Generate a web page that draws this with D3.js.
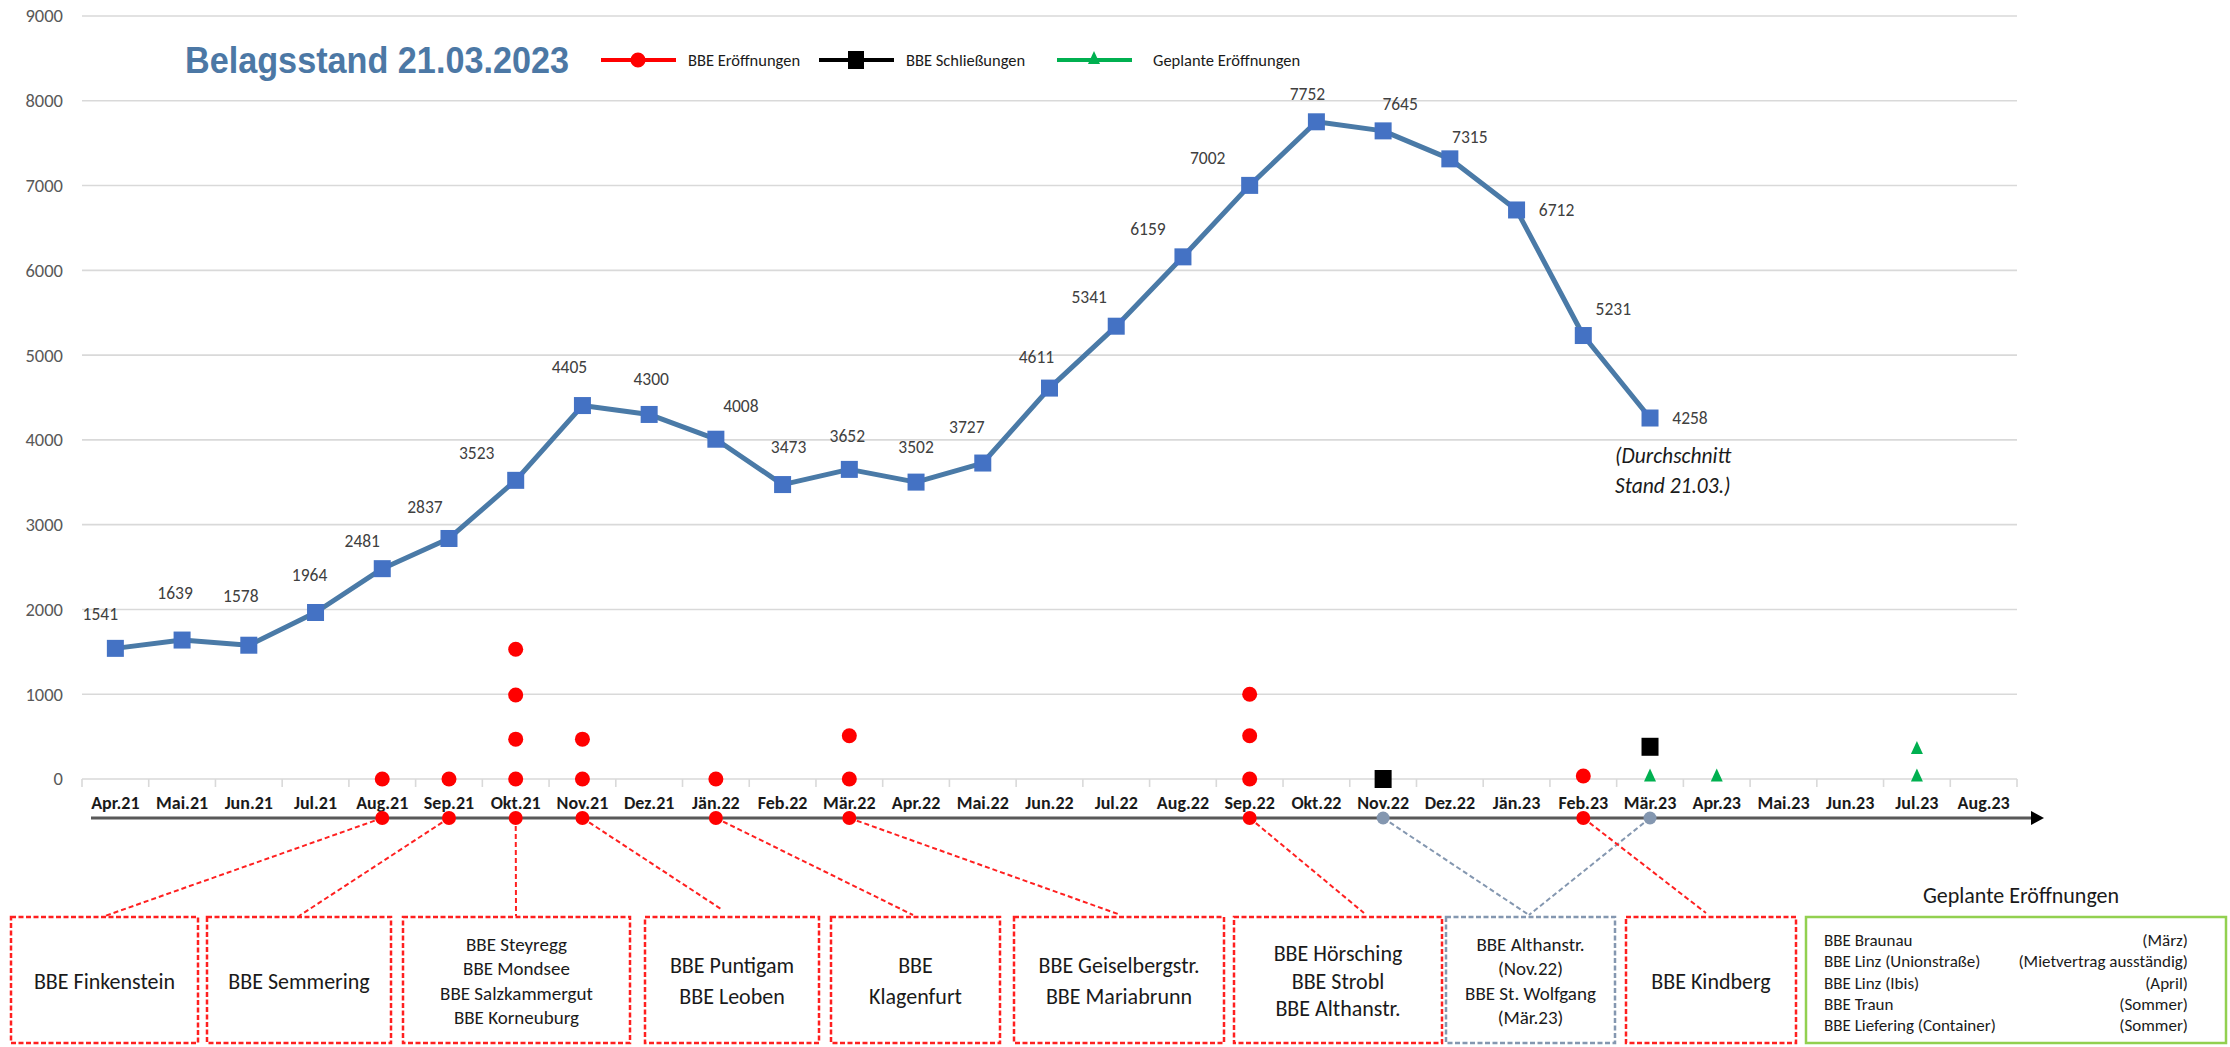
<!DOCTYPE html>
<html>
<head>
<meta charset="utf-8">
<style>
  body { margin: 0; background: #fff; }
  svg text { font-family: Calibri, Carlito, 'Open Sans', sans-serif; }
</style>
</head>
<body>
<script src="https://cdnjs.cloudflare.com/ajax/libs/d3/7.8.5/d3.min.js"></script>
<script>
// --- data ---
var months = ['Apr.21','Mai.21','Jun.21','Jul.21','Aug.21','Sep.21','Okt.21','Nov.21','Dez.21',
    'Jän.22','Feb.22','Mär.22','Apr.22','Mai.22','Jun.22','Jul.22','Aug.22','Sep.22','Okt.22',
    'Nov.22','Dez.22','Jän.23','Feb.23','Mär.23','Apr.23','Mai.23','Jun.23','Jul.23','Aug.23'];
var belag = [1541,1639,1578,1964,2481,2837,3523,4405,4300,4008,3473,3652,3502,3727,
    4611,5341,6159,7002,7752,7645,7315,6712,5231,4258];
var yTicks = [0,1000,2000,3000,4000,5000,6000,7000,8000,9000];

// marker rows: [month, value]
var eroeffnungen = [['Aug.21',0],['Sep.21',0],['Okt.21',0],['Okt.21',470],['Okt.21',990],['Okt.21',1530],
    ['Nov.21',0],['Nov.21',470],['Jän.22',0],['Mär.22',0],['Mär.22',510],
    ['Sep.22',0],['Sep.22',510],['Sep.22',1000],['Feb.23',35]];
var schliessungen = [['Nov.22',0],['Mär.23',380]];
var geplant = [['Mär.23',40],['Apr.23',40],['Jul.23',40],['Jul.23',365]];

var legendNames = ['BBE Eröffnungen','BBE Schließungen','Geplante Eröffnungen'];

// annotation boxes below the timeline
var boxTexts = [
    {links: ['Aug.21'], lines: ['BBE Finkenstein']},
    {links: ['Sep.21'], lines: ['BBE Semmering']},
    {links: ['Okt.21'], lines: ['BBE Steyregg','BBE Mondsee','BBE Salzkammergut','BBE Korneuburg']},
    {links: ['Nov.21'], lines: ['BBE Puntigam','BBE Leoben']},
    {links: ['Jän.22'], lines: ['BBE','Klagenfurt']},
    {links: ['Mär.22'], lines: ['BBE Geiselbergstr.','BBE Mariabrunn']},
    {links: ['Sep.22'], lines: ['BBE Hörsching','BBE Strobl','BBE Althanstr.']},
    {links: ['Nov.22','Mär.23'], lines: ['BBE Althanstr.','(Nov.22)','BBE St. Wolfgang','(Mär.23)'], closed: true},
    {links: ['Feb.23'], lines: ['BBE Kindberg']}
];
var planNames = ['BBE Braunau','BBE Linz (Unionstraße)','BBE Linz (Ibis)','BBE Traun','BBE Liefering (Container)'];
var planWhen = ['(März)','(Mietvertrag ausständig)','(April)','(Sommer)','(Sommer)'];

var labelNudge = [[-15,-34],[-7,-47],[-8,-49],[-6,-38],[-20,-28],[-24,-32],[-39,-27],[-13,-39],
    [2,-36],[25,-33],[6,-38],[-2,-34],[0,-35],[-16,-36],[-13,-31],[-27,-29],[-35,-28],[-42,-28],
    [-9,-28],[17,-27],[20,-22],[40,0],[30,-27],[40,0]];

// box layout in px: left, right, end x of connector, end y of connector
var boxLayout = [[11,198,105,916],[207,391,299,916],[403,630,516,916],[645,819,721,909],
    [831,1000,913,915],[1014,1224,1118,914],[1234,1442,1364,913],[1446,1615,1529,915],[1626,1796,1706,913]];

// --- chart ---
var W = 2230, H = 1047;
var svg = d3.select('body').append('svg')
    .attr('width', W)
    .attr('height', H);

var x = d3.scaleBand().domain(months).range([82, 2017]);
var y = d3.scaleLinear().domain([0, 9000]).range([779, 16]);
var cx = m => x(m) + x.bandwidth()/2;

// gridlines
svg.append('g').selectAll('line')
    .data(yTicks)
    .enter().append('line')
    .attr('x1', 82).attr('x2', 2017)
    .attr('y1', d => y(d)).attr('y2', d => y(d))
    .attr('stroke', '#d9d9d9')
    .attr('stroke-width', 1.6);

svg.append('g').selectAll('text')
    .data(yTicks)
    .enter().append('text')
    .attr('x', 63)
    .attr('y', d => y(d))
    .attr('dy', '0.35em')
    .attr('text-anchor', 'end')
    .attr('fill', '#595959')
    .style('font-size', '18.5px')
    .text(d => d);

// category axis on the zero line
var xAxis = svg.append('g')
    .attr('transform', 'translate(0,' + y(0) + ')')
    .call(d3.axisBottom(x).tickSize(0).tickPadding(17));
xAxis.select('.domain').remove();
xAxis.selectAll('text')
    .attr('fill', '#1a1a1a')
    .style('font-size', '18px')
    .style('font-weight', 'bold')
    .style('font-family', "Calibri, Carlito, 'Open Sans', sans-serif");
svg.append('g').selectAll('line')
    .data(months.concat(['end']))
    .enter().append('line')
    .attr('x1', (d,i) => 82 + i*x.step()).attr('x2', (d,i) => 82 + i*x.step())
    .attr('y1', y(0)).attr('y2', y(0) + 8)
    .attr('stroke', '#d9d9d9')
    .attr('stroke-width', 1.6);

// title
svg.append('text')
    .attr('x', 185).attr('y', 73)
    .attr('fill', '#4c78a5')
    .attr('textLength', 384)
    .attr('lengthAdjust', 'spacingAndGlyphs')
    .style('font-family', "'Liberation Sans', Arial, sans-serif")
    .style('font-weight', 'bold')
    .style('font-size', '36px')
    .text('Belagsstand 21.03.2023');

// legend
var legendX = [601, 819, 1057];
var legendCol = ['#ff0000', '#000000', '#00b050'];
var leg = svg.append('g').selectAll('g')
    .data(legendNames)
    .enter().append('g')
    .attr('transform', (d,i) => 'translate(' + legendX[i] + ',60)');
leg.append('line')
    .attr('x1', 0).attr('x2', 75)
    .attr('stroke', (d,i) => legendCol[i])
    .attr('stroke-width', 4);
leg.append('path')
    .attr('transform', 'translate(37,0)')
    .attr('d', (d,i) => i === 0 ? d3.symbol(d3.symbolCircle, 180)()
        : i === 1 ? 'M-8,-9H8V9H-8Z' : 'M0,-9L6,4H-6Z')
    .attr('fill', (d,i) => legendCol[i]);
leg.append('text')
    .attr('x', (d,i) => i === 2 ? 96 : 87)
    .attr('dy', '0.35em')
    .attr('fill', '#1a1a1a')
    .style('font-size', '16.5px')
    .text(d => d);

// occupancy line
var line = d3.line()
    .x((d,i) => cx(months[i]))
    .y(d => y(d));
svg.append('path')
    .datum(belag)
    .attr('d', line)
    .attr('fill', 'none')
    .attr('stroke', '#4a7aa7')
    .attr('stroke-width', 5)
    .attr('stroke-linejoin', 'round');
svg.append('g').selectAll('rect')
    .data(belag)
    .enter().append('rect')
    .attr('x', (d,i) => cx(months[i]) - 8.5)
    .attr('y', d => y(d) - 8.5)
    .attr('width', 17).attr('height', 17)
    .attr('fill', '#4472c4');
svg.append('g').selectAll('text')
    .data(belag)
    .enter().append('text')
    .attr('x', (d,i) => cx(months[i]) + labelNudge[i][0])
    .attr('y', (d,i) => y(d) + labelNudge[i][1])
    .attr('dy', '0.35em')
    .attr('text-anchor', 'middle')
    .attr('fill', '#404040')
    .style('font-size', '17.5px')
    .text(d => d);

svg.append('text')
    .attr('x', 1615)
    .attr('fill', '#1a1a1a')
    .style('font-size', '21.5px')
    .style('font-style', 'italic')
    .selectAll('tspan')
    .data(['(Durchschnitt', 'Stand 21.03.)'])
    .enter().append('tspan')
    .attr('x', 1615)
    .attr('y', (d,i) => 463 + i*30)
    .text(d => d);

// event markers
svg.append('g').selectAll('circle')
    .data(eroeffnungen)
    .enter().append('circle')
    .attr('cx', d => cx(d[0]))
    .attr('cy', d => y(d[1]))
    .attr('r', 7.5)
    .attr('fill', '#ff0000');
svg.append('g').selectAll('rect')
    .data(schliessungen)
    .enter().append('rect')
    .attr('x', d => cx(d[0]) - 8.5)
    .attr('y', d => y(d[1]) - 9)
    .attr('width', 17).attr('height', 18)
    .attr('fill', '#000');
svg.append('g').selectAll('path')
    .data(geplant)
    .enter().append('path')
    .attr('transform', d => 'translate(' + cx(d[0]) + ',' + y(d[1]) + ')')
    .attr('d', 'M0,-7L6,6H-6Z')
    .attr('fill', '#00b050');

// timeline arrow
var tl = 818;
svg.append('line')
    .attr('x1', 91).attr('x2', 2033)
    .attr('y1', tl).attr('y2', tl)
    .attr('stroke', '#595959')
    .attr('stroke-width', 3);
svg.append('path')
    .attr('d', 'M2031,' + (tl-7) + 'L2044,' + tl + 'L2031,' + (tl+7) + 'Z')
    .attr('fill', '#000');

// connectors and boxes
var links = [];
boxTexts.forEach((b, i) => {
    b.links.forEach(m => links.push({m: m, box: i, closed: !!b.closed}));
});
svg.append('g').selectAll('line')
    .data(links)
    .enter().append('line')
    .attr('x1', d => cx(d.m)).attr('y1', tl)
    .attr('x2', d => boxLayout[d.box][2]).attr('y2', d => boxLayout[d.box][3])
    .attr('stroke', d => d.closed ? '#8497b0' : '#ff2020')
    .attr('stroke-width', 2)
    .attr('stroke-dasharray', '5,3');
svg.append('g').selectAll('circle')
    .data(links)
    .enter().append('circle')
    .attr('cx', d => cx(d.m)).attr('cy', tl)
    .attr('r', d => d.closed ? 6.5 : 7)
    .attr('fill', d => d.closed ? '#8497b0' : '#ff0000');

var boxTop = 917, boxBottom = 1043;
var boxes = svg.append('g').selectAll('g')
    .data(boxTexts)
    .enter().append('g');
boxes.append('rect')
    .attr('x', (d,i) => boxLayout[i][0])
    .attr('y', boxTop)
    .attr('width', (d,i) => boxLayout[i][1] - boxLayout[i][0])
    .attr('height', boxBottom - boxTop)
    .attr('fill', '#fff')
    .attr('stroke', d => d.closed ? '#8497b0' : '#ff2020')
    .attr('stroke-width', 2.5)
    .attr('stroke-dasharray', '5,2.5');
boxes.each(function(d, i) {
    var n = d.lines.length;
    var gap = n === 4 ? 24.5 : n === 3 ? 27.5 : 31;
    var fs = n === 4 ? 19 : 22;
    var mid = (boxLayout[i][0] + boxLayout[i][1]) / 2;
    d3.select(this).selectAll('text')
        .data(d.lines)
        .enter().append('text')
        .attr('x', mid)
        .attr('y', (t,j) => 981 + (j - (n-1)/2) * gap)
        .attr('dy', '0.35em')
        .attr('text-anchor', 'middle')
        .attr('fill', '#1a1a1a')
        .style('font-size', fs + 'px')
        .text(t => t);
});

// planned openings box
svg.append('text')
    .attr('x', 2021).attr('y', 895)
    .attr('dy', '0.35em')
    .attr('text-anchor', 'middle')
    .attr('fill', '#1a1a1a')
    .style('font-size', '22px')
    .text('Geplante Eröffnungen');
svg.append('rect')
    .attr('x', 1806).attr('y', boxTop)
    .attr('width', 420).attr('height', boxBottom - boxTop)
    .attr('fill', '#fff')
    .attr('stroke', '#92d050')
    .attr('stroke-width', 2.5);
svg.append('g').selectAll('text')
    .data(planNames)
    .enter().append('text')
    .attr('x', 1824)
    .attr('y', (d,i) => 940 + i*21.3)
    .attr('dy', '0.35em')
    .attr('fill', '#1a1a1a')
    .style('font-size', '17px')
    .text(d => d);
svg.append('g').selectAll('text')
    .data(planWhen)
    .enter().append('text')
    .attr('x', 2188)
    .attr('y', (d,i) => 940 + i*21.3)
    .attr('dy', '0.35em')
    .attr('text-anchor', 'end')
    .attr('fill', '#1a1a1a')
    .style('font-size', '17px')
    .text(d => d);
</script>
</body>
</html>
